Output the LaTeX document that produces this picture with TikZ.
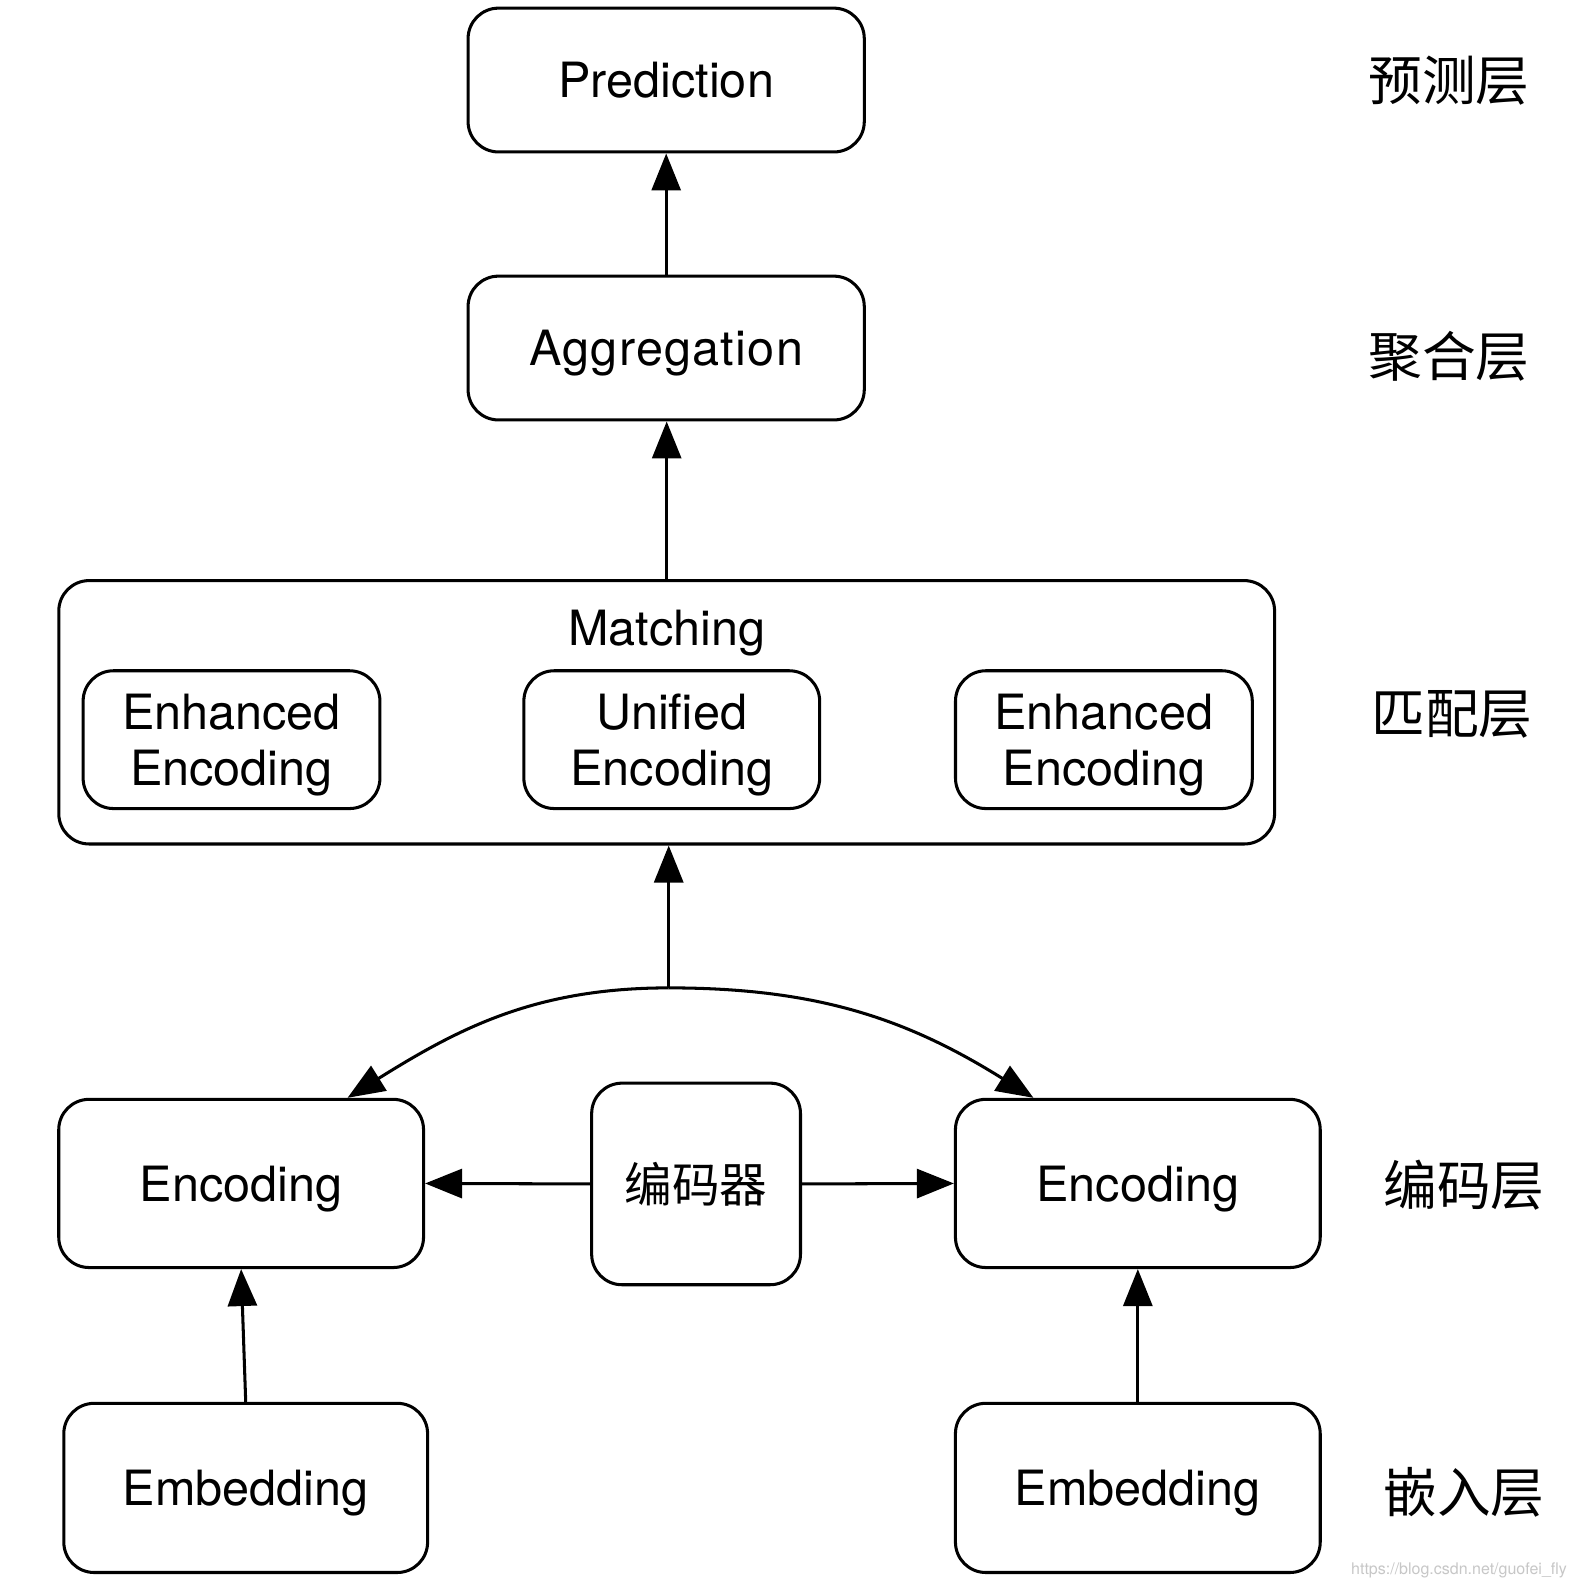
\documentclass[tikz,border=0pt]{standalone}
\usepackage{fontspec}
\setmainfont{TeX Gyre Heros}
\newfontfamily\cjk{Noto Sans CJK SC}
\usetikzlibrary{arrows.meta}
\tikzset{
  box/.style={draw, rounded corners=15.2pt, line width=1.52pt, align=center, inner sep=0pt,
    font=\fontsize{24.3}{27.9}\selectfont},
  one/.style={text depth=0pt},
  txt/.style={align=center, inner sep=0pt, font=\fontsize{24.3}{27.9}\selectfont},
  arr/.style={line width=1.52pt, -{Triangle[length=18.5pt,width=14.5pt]}},
  layer/.style={font=\cjk\fontsize{26.85}{30}\selectfont, inner sep=0pt},
}
\begin{document}
\begin{tikzpicture}[x=0.5066pt,y=-0.5066pt]
\useasboundingbox[fill=white] (0,0) rectangle (1553.5,1567.3);
% boxes
\node[box, one, minimum width=198.1pt, minimum height=71.9pt] (pred) at (657.5,79) {Prediction};
\node[box, one, minimum width=198.1pt, minimum height=71.9pt] (agg) at (657.5,343.5) {\addfontfeature{LetterSpace=2.7}Aggregation};
\node[box, minimum width=607.9pt, minimum height=131.7pt] (match) at (658,703) {};
\node[txt, one] (mlabel) at (658,620) {Matching};
\node[box, minimum width=148.4pt, minimum height=68.9pt] (ee1) at (228.5,730) {};
\node[txt] (ee1t) at ([yshift=-2.7pt]ee1.center) {Enhanced\\Encoding};
\node[box, minimum width=147.9pt, minimum height=68.9pt] (ue) at (663,730) {};
\node[txt] (uet) at ([yshift=-2.7pt]ue.center) {Unified\\Encoding};
\node[box, minimum width=148.4pt, minimum height=68.9pt] (ee2) at (1089.5,730) {};
\node[txt] (ee2t) at ([yshift=-2.7pt]ee2.center) {Enhanced\\Encoding};
\node[box, one, minimum width=182.4pt, minimum height=84.1pt] (enc1) at (238,1168) {Encoding};
\node[box, minimum width=104.4pt, minimum height=100.8pt, font=\cjk\fontsize{23.8}{27}\selectfont] (coder) at (687,1168.5) {编码器};
\node[box, one, minimum width=182.4pt, minimum height=84.1pt] (enc2) at (1123,1168) {Encoding};
\node[box, one, minimum width=181.9pt, minimum height=84.6pt] (emb1) at (242.5,1468.5) {Embedding};
\node[box, one, minimum width=182.4pt, minimum height=84.6pt] (emb2) at (1123,1468.5) {Embedding};
% layer labels
\node[layer] (l1) at (1430,80) {预测层};
\node[layer] (l2) at (1430,352) {聚合层};
\node[layer] (l3) at (1433,705) {匹配层};
\node[layer] (l4) at (1445,1170) {编码层};
\node[layer] (l5) at (1445,1473) {嵌入层};
% watermark
\node[text=black!22, font=\fontsize{8}{9}\selectfont, inner sep=0pt] (wm) at (1440,1550) {https://blog.csdn.net/guofei\_fly};
% connectors
\draw[arr] (agg.north) -- (pred.south);
\draw[arr] (match.north) -- (match.north |- agg.south);
\coordinate (top) at (660,975);
\draw[arr] (top) -- (top |- match.south);
\draw[arr] (top) to[out=180,in=32] ([xshift=53.2pt]enc1.north);
\draw[arr] (top) to[out=0,in=148] ([xshift=-52.2pt]enc2.north);
\draw[arr] (coder.west) -- (enc1.east);
\draw[arr] (coder.east) -- (enc2.west);
\draw[arr] (emb1.north) -- (enc1.south);
\draw[arr] (emb2.north) -- (enc2.south);
\end{tikzpicture}
\end{document}
